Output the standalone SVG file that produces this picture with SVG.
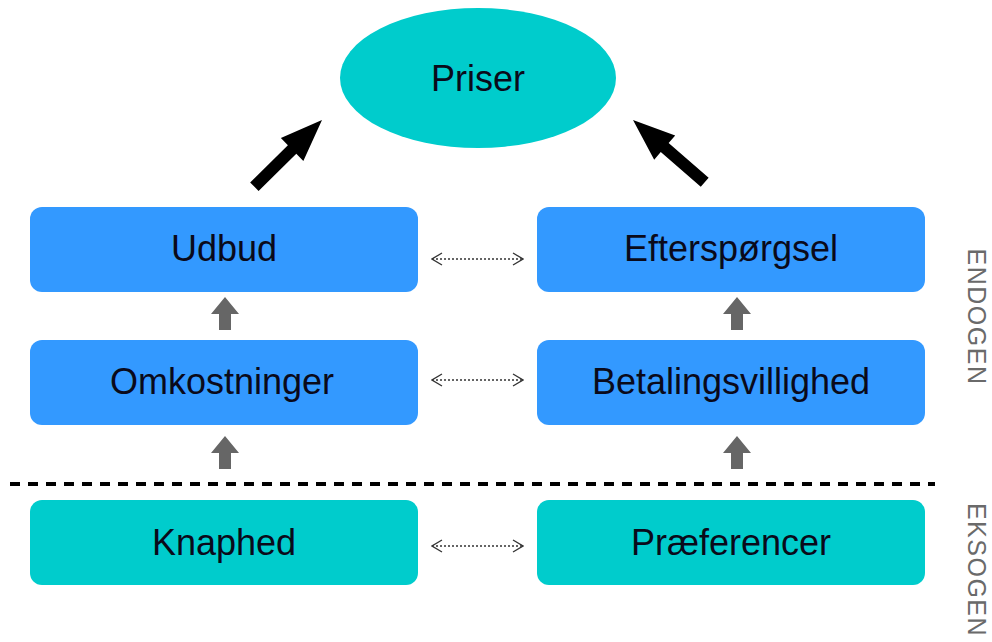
<svg xmlns="http://www.w3.org/2000/svg" width="992" height="642" viewBox="0 0 992 642">
<defs>
<style>
.blue{fill:#3399ff;}
.teal{fill:#00cccc;}
.lbl{font-family:"Liberation Sans",Arial,sans-serif;font-size:36px;fill:#0a0a1a;text-anchor:middle;dominant-baseline:central;}
.side{font-family:"Liberation Sans",Arial,sans-serif;font-size:25px;fill:#6a6a6a;text-anchor:middle;dominant-baseline:central;letter-spacing:1.5px;}
.dot{stroke:#333;stroke-width:1.3;stroke-dasharray:2 2;fill:none;}
.gray{fill:#666;}
</style>
<marker id="oa" viewBox="0 0 12 14" refX="11" refY="7" markerWidth="12" markerHeight="14" markerUnits="userSpaceOnUse" orient="auto-start-reverse">
<path d="M1,1 L11,7 L1,13" fill="none" stroke="#333" stroke-width="1.3"/>
</marker>
<path id="garrow" d="M0,0 L14,17 L6,17 L6,33 L-6,33 L-6,17 L-14,17 Z"/>
<path id="barrow" d="M0,0 L-42,-16 L-42,-6 L-95,-6 L-95,6 L-42,6 L-42,16 Z"/>
</defs>
<rect width="992" height="642" fill="#fff"/>
<g id="priser">
<ellipse class="teal" cx="478" cy="78" rx="138" ry="70"/>
<text class="lbl" x="478" y="78">Priser</text>
</g>
<g id="udbud">
<rect class="blue" x="30" y="207" width="388" height="85" rx="12"/>
<text class="lbl" x="224" y="248">Udbud</text>
</g>
<g id="efterspoergsel">
<rect class="blue" x="537" y="207" width="388" height="85" rx="12"/>
<text class="lbl" x="731" y="248">Efterspørgsel</text>
</g>
<g id="omkostninger">
<rect class="blue" x="30" y="340" width="388" height="85" rx="12"/>
<text class="lbl" x="222" y="381">Omkostninger</text>
</g>
<g id="betalingsvillighed">
<rect class="blue" x="537" y="340" width="388" height="85" rx="12"/>
<text class="lbl" x="731" y="381">Betalingsvillighed</text>
</g>
<g id="knaphed">
<rect class="teal" x="30" y="500" width="388" height="85" rx="12"/>
<text class="lbl" x="224" y="542">Knaphed</text>
</g>
<g id="praeferencer">
<rect class="teal" x="537" y="500" width="388" height="85" rx="12"/>
<text class="lbl" x="731" y="542">Præferencer</text>
</g>
<g id="labels">
<text class="side" transform="translate(977,317) rotate(90)">ENDOGEN</text>
<text class="side" transform="translate(977,570) rotate(90)">EKSOGEN</text>
</g>
<g id="connectors">
<line x1="10" y1="484" x2="935" y2="484" stroke="#000" stroke-width="4" stroke-dasharray="10 8"/>
<use href="#barrow" transform="translate(322,120) rotate(-44.6)"/>
<use href="#barrow" transform="translate(633,120) rotate(-139)"/>
<use class="gray" href="#garrow" x="225" y="297"/>
<use class="gray" href="#garrow" x="225" y="436"/>
<use class="gray" href="#garrow" x="737" y="297"/>
<use class="gray" href="#garrow" x="737" y="436"/>
<line class="dot" x1="432" y1="259" x2="523" y2="259" marker-start="url(#oa)" marker-end="url(#oa)"/>
<line class="dot" x1="432" y1="380" x2="523" y2="380" marker-start="url(#oa)" marker-end="url(#oa)"/>
<line class="dot" x1="432" y1="546" x2="523" y2="546" marker-start="url(#oa)" marker-end="url(#oa)"/>
</g>
</svg>
